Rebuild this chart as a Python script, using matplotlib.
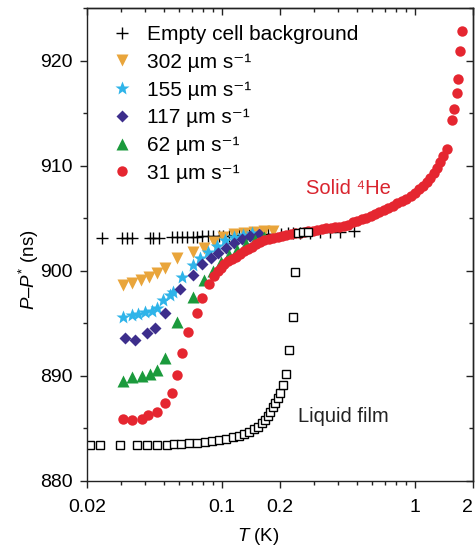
import matplotlib
matplotlib.use("Agg")
import matplotlib.pyplot as plt
from matplotlib.ticker import FixedLocator, LogLocator, MultipleLocator, NullFormatter

plt.rcParams['font.family'] = ['Liberation Sans', 'DejaVu Sans']
plt.rcParams['mathtext.fontset'] = 'custom'
plt.rcParams['mathtext.rm'] = 'Liberation Sans'
plt.rcParams['mathtext.it'] = 'Liberation Sans:italic'

# empty cell background (+)
bg_T = [0.0239, 0.0303, 0.0323, 0.0343, 0.0426, 0.0441, 0.0471, 0.0554, 0.0588,
        0.0625, 0.0662, 0.0705, 0.0748, 0.0794, 0.0843, 0.0896, 0.0962, 0.1018,
        0.1083, 0.1151, 0.1223, 0.1299, 0.1379, 0.1464, 0.1588, 0.1732, 0.1865,
        0.2024, 0.2197, 0.2338, 0.2555, 0.2878, 0.3242, 0.365, 0.41, 0.485]
bg_P = [903.1, 903.1, 903.1, 903.1, 903.1, 903.1, 903.1, 903.2, 903.2,
        903.2, 903.2, 903.2, 903.2, 903.3, 903.3, 903.3, 903.3, 903.3,
        903.3, 903.4, 903.4, 903.4, 903.4, 903.4, 903.5, 903.5, 903.5,
        903.5, 903.6, 903.6, 903.6, 903.6, 903.7, 903.7, 903.7, 903.8]

# 302 um/s
v302_T = [0.0309, 0.0343, 0.0383, 0.0421, 0.0463, 0.051, 0.0588, 0.0705, 0.0804,
          0.0906, 0.1018, 0.1151, 0.13, 0.146, 0.165, 0.185]
v302_P = [898.6, 898.8, 899.1, 899.4, 899.8, 900.3, 901.2, 901.8, 902.2,
          902.7, 903.2, 903.5, 903.6, 903.7, 903.8, 903.8]

# 155 um/s
v155_T = [0.0309, 0.0343, 0.0369, 0.0401, 0.0436, 0.0463, 0.0498, 0.0541, 0.0561,
          0.0625, 0.0705, 0.0774, 0.085, 0.094, 0.104, 0.115, 0.128, 0.143]
v155_P = [895.6, 895.8, 895.9, 896.1, 896.2, 896.5, 897.2, 897.7, 898.0,
          899.4, 900.5, 901.2, 901.8, 902.4, 902.9, 903.2, 903.4, 903.6]

# 117 um/s
v117_T = [0.0315, 0.0356, 0.0411, 0.0452, 0.051, 0.061, 0.0705, 0.0794, 0.0874,
          0.096, 0.105, 0.115, 0.127, 0.14, 0.155]
v117_P = [893.6, 893.4, 894.1, 894.6, 896.0, 898.3, 899.6, 900.6, 901.2,
          901.7, 902.2, 902.6, 903.0, 903.3, 903.5]

# 62 um/s
v62_T = [0.0309, 0.0343, 0.0387, 0.0426, 0.0463, 0.051, 0.0588, 0.0705, 0.0804,
         0.0896, 0.099, 0.109, 0.12, 0.133, 0.148, 0.165]
v62_P = [889.5, 889.9, 890.0, 890.2, 890.6, 891.7, 895.1, 897.5, 899.1,
         900.0, 900.8, 901.5, 902.0, 902.5, 902.9, 903.2]

# 31 um/s
v31_T = [0.0309, 0.0343, 0.0387, 0.0416, 0.0463, 0.051, 0.0554, 0.0588, 0.0625,
         0.0671, 0.074, 0.0794, 0.0854, 0.0906, 0.095, 0.099, 0.103, 0.108,
         0.113, 0.118, 0.124, 0.13, 0.136, 0.143, 0.15, 0.158, 0.166, 0.175,
         0.185, 0.195, 0.205, 0.216, 0.228, 0.24, 0.253, 0.267, 0.281, 0.296,
         0.312, 0.329, 0.347, 0.366, 0.386, 0.407, 0.429, 0.452, 0.477, 0.503,
         0.53, 0.559, 0.59, 0.622, 0.656, 0.692, 0.73, 0.77, 0.812, 0.856,
         0.903, 0.952, 1.0, 1.05, 1.1, 1.15, 1.2, 1.25, 1.3, 1.35, 1.4, 1.46,
         1.555, 1.59, 1.65, 1.67, 1.71, 1.75]
v31_P = [885.9, 885.8, 885.9, 886.3, 886.6, 887.4, 888.4, 890.1, 892.2,
         894.2, 896.0, 897.4, 898.7, 899.5, 900.0, 900.3, 900.6, 900.9,
         901.1, 901.3, 901.6, 901.9, 902.1, 902.3, 902.5, 902.7, 902.9, 903.0,
         903.1, 903.2, 903.3, 903.4, 903.5, 903.6, 903.6, 903.7, 903.8, 903.8,
         903.9, 904.0, 904.1, 904.1, 904.2, 904.2, 904.3, 904.4, 904.6, 904.7,
         904.9, 905.0, 905.2, 905.4, 905.6, 905.8, 906.0, 906.2, 906.4, 906.6,
         906.8, 907.1, 907.4, 907.8, 908.1, 908.4, 908.8, 909.3, 909.8, 910.3, 910.9, 911.6,
         914.3, 915.4, 916.9, 918.2, 920.9, 922.8]

# liquid film (open squares)
film_T = [0.0207, 0.0234, 0.0297, 0.0364, 0.0411, 0.0463, 0.0522, 0.0568, 0.0618,
          0.068, 0.0748, 0.0814, 0.0885, 0.0962, 0.1047, 0.1138, 0.1223, 0.1299,
          0.1379, 0.1464, 0.1536, 0.1612, 0.1671, 0.1732, 0.1774, 0.1839, 0.1884,
          0.1952, 0.2, 0.2073, 0.215, 0.2228, 0.2338, 0.2394, 0.2482, 0.2636, 0.2798]
film_P = [883.4, 883.4, 883.4, 883.4, 883.4, 883.4, 883.4, 883.5, 883.5,
          883.6, 883.6, 883.7, 883.8, 883.9, 884.0, 884.2, 884.3, 884.5,
          884.7, 884.9, 885.1, 885.5, 885.8, 886.2, 886.6, 887.0, 887.4,
          887.9, 888.4, 889.1, 890.2, 892.5, 895.6, 899.9, 903.6, 903.7, 903.7]

xticks = [0.02, 0.1, 0.2, 1, 2]
xticklabels = ['0.02', '0.1', '0.2', '1', '2']

fig = plt.figure(figsize=(4.75, 5.5), dpi=100)
ax = fig.add_axes([0.183, 0.1255, 0.8126, 0.86])

ax.plot(bg_T, bg_P, '+', color='black', ms=8, mew=1.0, label='Empty cell background')
ax.plot(v302_T, v302_P, 'v', color='#E9A53B', ms=8, mec='none', label='302 µm s⁻¹')
ax.plot(v155_T, v155_P, '*', color='#2FB4E9', ms=10.5, mec='none', label='155 µm s⁻¹')
ax.plot(v117_T, v117_P, 'D', color='#3D2E8C', ms=6.5, mec='none', label='117 µm s⁻¹')
ax.plot(v62_T, v62_P, '^', color='#1B9A3C', ms=8, mec='none', label='62 µm s⁻¹')
ax.plot(v31_T, v31_P, 'o', color='#E52630', ms=7.5, mec='none', label='31 µm s⁻¹')
ax.plot(film_T, film_P, 's', mfc='white', mec='black', ms=6, mew=1.0, ls='none')

ax.set_xscale('log')
ax.set_xlim(0.02, 2)
ax.set_ylim(880, 925)

ax.xaxis.set_major_locator(FixedLocator(xticks))
ax.set_xticklabels(xticklabels)
ax.get_xticklabels()[-1].set_horizontalalignment('right')
ax.xaxis.set_minor_locator(LogLocator(base=10, subs=range(2, 10)))
ax.xaxis.set_minor_formatter(NullFormatter())
ax.yaxis.set_major_locator(MultipleLocator(10))
ax.yaxis.set_minor_locator(MultipleLocator(5))

ax.tick_params(which='both', direction='out', labelsize=14, width=1.0, color='#222222')
ax.tick_params(which='major', length=5)
ax.tick_params(which='minor', length=3)
ax.tick_params(axis='x', pad=8)
ax.tick_params(axis='y', pad=5)

# top and right axes have inward ticks
top = ax.secondary_xaxis('top')
top.xaxis.set_major_locator(FixedLocator(xticks))
top.xaxis.set_minor_locator(LogLocator(base=10, subs=range(2, 10)))
top.tick_params(which='both', direction='in', labeltop=False, width=1.0, color='#222222')
top.tick_params(which='major', length=5)
top.tick_params(which='minor', length=3)
right = ax.secondary_yaxis('right')
right.yaxis.set_major_locator(MultipleLocator(10))
right.yaxis.set_minor_locator(MultipleLocator(5))
right.tick_params(which='both', direction='in', labelright=False, width=1.0, color='#222222')
right.tick_params(which='major', length=5)
right.tick_params(which='minor', length=3)

for a in (ax, top, right):
    for s in a.spines.values():
        s.set_linewidth(1.0)
        s.set_color('#222222')

ax.set_xlabel('$T$ (K)', fontsize=13.5)
ax.xaxis.set_label_coords(0.443, -0.095)
ax.set_ylabel('$P$–$P^{*}$ (ns)', fontsize=13.5)
ax.yaxis.set_label_coords(-0.12, 0.446)

ax.text(0.248, 886.1, 'Liquid film', fontsize=14.5, va='center', ha='left', color='#222222')
ax.text(0.273, 907.8, 'Solid ⁴He', fontsize=14.5, va='center', ha='left', color='#D9242E')

ax.legend(loc='upper left', bbox_to_anchor=(0.064, 0.964), frameon=False, fontsize=15,
          handlelength=1.0, handletextpad=0.7, borderpad=0, borderaxespad=0,
          labelspacing=0.42, numpoints=1)

fig.savefig('out.png', dpi=100)
